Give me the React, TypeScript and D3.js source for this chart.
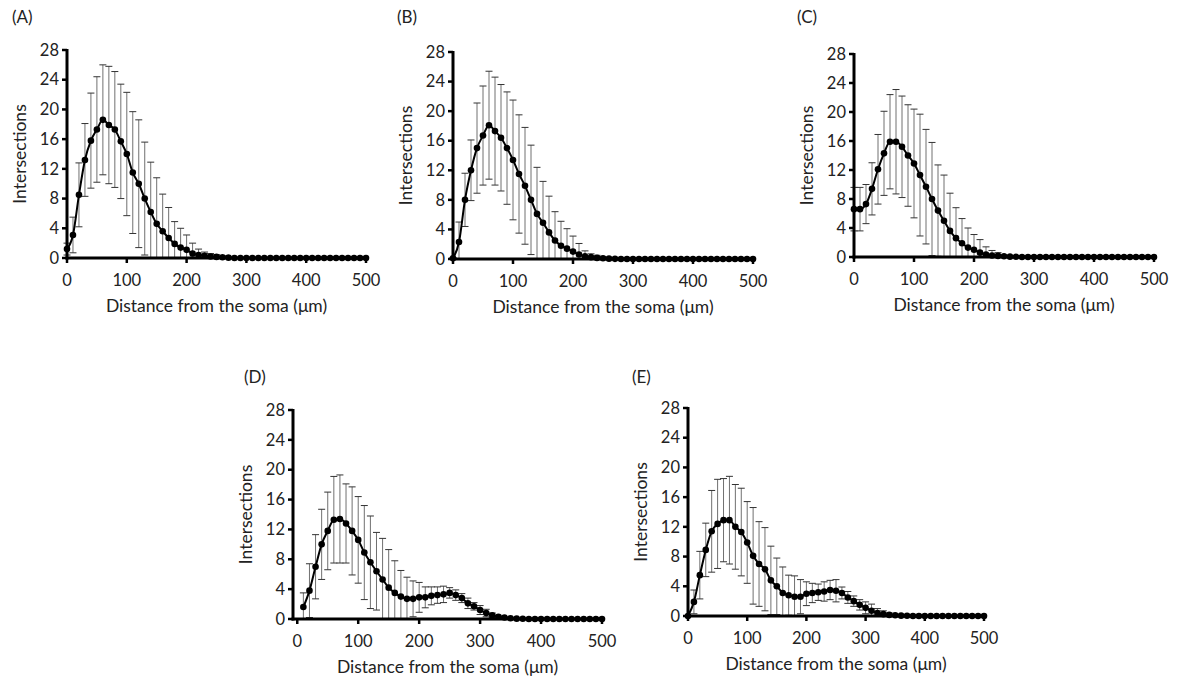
import React from "react";
import * as d3 from "d3";

// distance from the soma (µm), one value every 10 µm
const distance = [
  0, 10, 20, 30, 40, 50, 60, 70, 80, 90, 100, 110, 120, 130, 140, 150, 160, 170, 180, 190, 200,
  210, 220, 230, 240, 250, 260, 270, 280, 290, 300, 310, 320, 330, 340, 350, 360, 370, 380, 390,
  400, 410, 420, 430, 440, 450, 460, 470, 480, 490, 500,
];

const xTicks = [0, 100, 200, 300, 400, 500];
const yTicks = [0, 4, 8, 12, 16, 20, 24, 28];

const meanA = [
  1.2, 3.1, 8.5, 13.2, 15.8, 17.3, 18.6, 17.9, 17.3, 15.7, 14.0, 11.5, 10.0, 8.0, 6.2, 4.6, 3.6, 2.7,
  1.9, 1.4, 1.1, 0.6, 0.4, 0.3, 0.2, 0.15, 0.1, 0.05, 0, 0, 0, 0, 0, 0, 0, 0, 0, 0, 0, 0, 0, 0, 0, 0,
  0, 0, 0, 0, 0, 0, 0,
];
const sdA = [
  0.8, 2.4, 4.3, 4.9, 6.4, 7.1, 7.4, 7.9, 7.8, 7.7, 8.3, 8.2, 8.6, 7.6, 6.7, 6.2, 5.0, 4.1, 3.0, 2.6,
  2.0, 1.4, 0.8, 0.5, 0.4, 0.3, 0.2, 0.1, 0, 0, 0, 0, 0, 0, 0, 0, 0, 0, 0, 0, 0, 0, 0, 0, 0, 0, 0, 0,
  0, 0, 0,
];

const meanB = [
  0.1, 2.3, 8.0, 12.0, 15.0, 16.7, 18.1, 17.3, 16.4, 15.0, 13.4, 11.5, 9.9, 8.0, 6.1, 4.9, 3.6, 2.5,
  1.8, 1.4, 1.0, 0.6, 0.35, 0.25, 0.15, 0.1, 0.05, 0.02, 0, 0, 0, 0, 0, 0, 0, 0, 0, 0, 0, 0, 0, 0, 0,
  0, 0, 0, 0, 0, 0, 0, 0,
];
const sdB = [
  0.1, 2.7, 3.6, 4.1, 6.1, 6.7, 7.3, 7.3, 7.2, 7.6, 8.1, 8.0, 7.9, 7.4, 6.3, 5.6, 4.9, 3.9, 3.3, 2.7,
  2.1, 1.5, 0.75, 0.45, 0.35, 0.2, 0.1, 0.05, 0, 0, 0, 0, 0, 0, 0, 0, 0, 0, 0, 0, 0, 0, 0, 0, 0, 0, 0,
  0, 0, 0, 0,
];

const meanC = [
  6.6, 6.6, 7.3, 9.4, 12.1, 14.3, 15.9, 15.9, 15.2, 14.0, 12.9, 11.3, 9.7, 8.0, 6.4, 5.0, 3.6, 2.6,
  1.9, 1.3, 1.0, 0.6, 0.35, 0.2, 0.15, 0.1, 0.05, 0.03, 0, 0, 0, 0, 0, 0, 0, 0, 0, 0, 0, 0, 0, 0, 0,
  0, 0, 0, 0, 0, 0, 0, 0,
];
const sdC = [
  3.0, 3.0, 2.7, 3.6, 4.8, 5.8, 6.5, 7.2, 7.0, 7.0, 7.5, 8.4, 7.9, 7.8, 6.3, 6.3, 5.2, 4.2, 3.4, 2.7,
  2.1, 1.8, 1.05, 0.7, 0.45, 0.2, 0.1, 0.05, 0, 0, 0, 0, 0, 0, 0, 0, 0, 0, 0, 0, 0, 0, 0, 0, 0, 0, 0,
  0, 0, 0, 0,
];

// panel D has no value at 0 µm
const meanD = [
  null, 1.6, 3.8, 7.0, 10.0, 11.8, 13.3, 13.4, 12.8, 11.8, 10.6, 8.9, 7.6, 6.4, 5.3, 4.2, 3.5, 3.0,
  2.7, 2.7, 2.9, 2.9, 3.1, 3.2, 3.3, 3.5, 3.2, 2.8, 2.1, 1.7, 1.2, 0.8, 0.5, 0.3, 0.2, 0.1, 0.05,
  0.03, 0, 0, 0, 0, 0, 0, 0, 0, 0, 0, 0, 0, 0,
];
const sdD = [
  null, 1.9, 3.6, 4.3, 4.7, 5.2, 5.8, 5.9, 5.3, 5.9, 5.8, 6.3, 6.2, 5.2, 5.5, 5.1, 4.3, 3.5, 2.9,
  2.4, 2.0, 1.4, 1.2, 1.1, 1.1, 0.7, 0.7, 0.6, 0.7, 0.5, 0.6, 0.5, 0.3, 0.2, 0.1, 0.05, 0.03, 0.02,
  0, 0, 0, 0, 0, 0, 0, 0, 0, 0, 0, 0, 0,
];

const meanE = [
  0, 1.9, 5.5, 8.9, 11.4, 12.4, 12.9, 12.9, 12.0, 11.3, 9.9, 8.1, 7.0, 6.3, 4.8, 4.0, 3.1, 2.8, 2.6,
  2.6, 3.0, 3.1, 3.2, 3.3, 3.5, 3.4, 3.1, 2.5, 2.0, 1.5, 1.1, 0.7, 0.4, 0.25, 0.15, 0.1, 0.05, 0.03,
  0, 0, 0, 0, 0, 0, 0, 0, 0, 0, 0, 0, 0,
];
const sdE = [
  0, 1.6, 3.2, 3.6, 5.5, 6.0, 5.6, 5.9, 5.7, 5.9, 5.5, 6.5, 5.7, 5.6, 4.6, 3.8, 3.5, 2.7, 2.8, 2.3,
  1.6, 1.3, 1.1, 1.3, 1.3, 1.5, 0.8, 0.8, 0.7, 0.7, 0.8, 0.9, 0.6, 0.45, 0.25, 0.1, 0.05, 0.02, 0,
  0, 0, 0, 0, 0, 0, 0, 0, 0, 0, 0, 0,
];

const FONT = "Lato, 'Liberation Sans', sans-serif";

// panel placement on the page
const panels = [
  { label: "(A)", mean: meanA, sd: sdA, left: 67, top: 50, bottom: 258, right: 366, xMin: 0, lx: 12, ly: 23 },
  { label: "(B)", mean: meanB, sd: sdB, left: 453, top: 52, bottom: 259, right: 753, xMin: 0, lx: 397, ly: 23 },
  { label: "(C)", mean: meanC, sd: sdC, left: 854, top: 54, bottom: 257, right: 1154, xMin: 0, lx: 797, ly: 23 },
  { label: "(D)", mean: meanD, sd: sdD, left: 293, top: 410, bottom: 619, right: 602, xMin: -7, lx: 244, ly: 383 },
  { label: "(E)", mean: meanE, sd: sdE, left: 688, top: 408, bottom: 616, right: 984, xMin: 0, lx: 632, ly: 383 },
];

type Pt = { x: number; m: number; s: number };

const Panel = ({ p }: { p: (typeof panels)[number] }) => {
  const x = d3.scaleLinear().domain([p.xMin, 500]).range([p.left, p.right]);
  const y = d3.scaleLinear().domain([0, 28]).range([p.bottom, p.top]);
  const pts: Pt[] = [];
  distance.forEach((d, i) => {
    const m = p.mean[i];
    if (m === null || m === undefined) return;
    pts.push({ x: d, m, s: p.sd[i] ?? 0 });
  });
  const line = d3
    .line<Pt>()
    .x((d) => x(d.x))
    .y((d) => y(d.m))
    .curve(d3.curveMonotoneX);
  const cap = 3.5;
  const midY = (p.top + p.bottom) / 2;
  const midX = (p.left + p.right) / 2;

  return (
    <g>
      <text x={p.lx} y={p.ly} fontSize={17} fontFamily={FONT} fill="#222">
        {p.label}
      </text>

      {/* error bars */}
      {pts
        .filter((d) => d.s > 0.04)
        .map((d, i) => {
          const hi = d.m + d.s;
          const lo = d.m - d.s;
          const cx = x(d.x);
          return (
            <g key={i}>
              <line x1={cx} x2={cx} y1={y(hi)} y2={y(Math.max(lo, 0))} stroke="#707070" strokeWidth={1} />
              <line x1={cx - cap} x2={cx + cap} y1={y(hi)} y2={y(hi)} stroke="#333" strokeWidth={1} />
              {lo > 0 && (
                <line x1={cx - cap} x2={cx + cap} y1={y(lo)} y2={y(lo)} stroke="#333" strokeWidth={1} />
              )}
            </g>
          );
        })}

      {/* axes */}
      <line x1={p.left} x2={p.left} y1={p.top - 1} y2={p.bottom + 1.5} stroke="#000" strokeWidth={3} />
      <line x1={p.left - 1.5} x2={p.right + 1} y1={p.bottom} y2={p.bottom} stroke="#000" strokeWidth={3} />
      {yTicks.map((t) => (
        <g key={t}>
          <line x1={p.left - 5} x2={p.left} y1={y(t)} y2={y(t)} stroke="#000" strokeWidth={2.5} />
          <text
            x={p.left - 8}
            y={y(t)}
            dy="0.35em"
            textAnchor="end"
            fontSize={16.5}
            fontFamily={FONT}
            fill="#222"
          >
            {t}
          </text>
        </g>
      ))}
      {xTicks.map((t) => (
        <g key={t}>
          <line x1={x(t)} x2={x(t)} y1={p.bottom} y2={p.bottom + 5} stroke="#000" strokeWidth={2.5} />
          <text x={x(t)} y={p.bottom + 28} textAnchor="middle" fontSize={16.5} fontFamily={FONT} fill="#222">
            {t}
          </text>
        </g>
      ))}

      {/* mean line and markers */}
      <path d={line(pts) ?? ""} fill="none" stroke="#000" strokeWidth={2} />
      {pts.map((d, i) => (
        <circle key={i} cx={x(d.x)} cy={y(d.m)} r={3.3} fill="#000" />
      ))}

      <text
        x={midX}
        y={p.bottom + 54}
        textAnchor="middle"
        fontSize={17.5}
        fontFamily={FONT}
        fill="#222"
      >
        Distance from the soma (μm)
      </text>
      <text
        transform={`translate(${p.left - 41},${midY}) rotate(-90)`}
        textAnchor="middle"
        fontSize={17.5}
        fontFamily={FONT}
        fill="#222"
      >
        Intersections
      </text>
    </g>
  );
};

export default function App() {
  return (
    <svg
      width={1178}
      height={684}
      style={{ position: "absolute", left: 0, top: 0, background: "#fff" }}
    >
      <rect width={1178} height={684} fill="#fff" />
      {panels.map((p) => (
        <Panel key={p.label} p={p} />
      ))}
    </svg>
  );
}
